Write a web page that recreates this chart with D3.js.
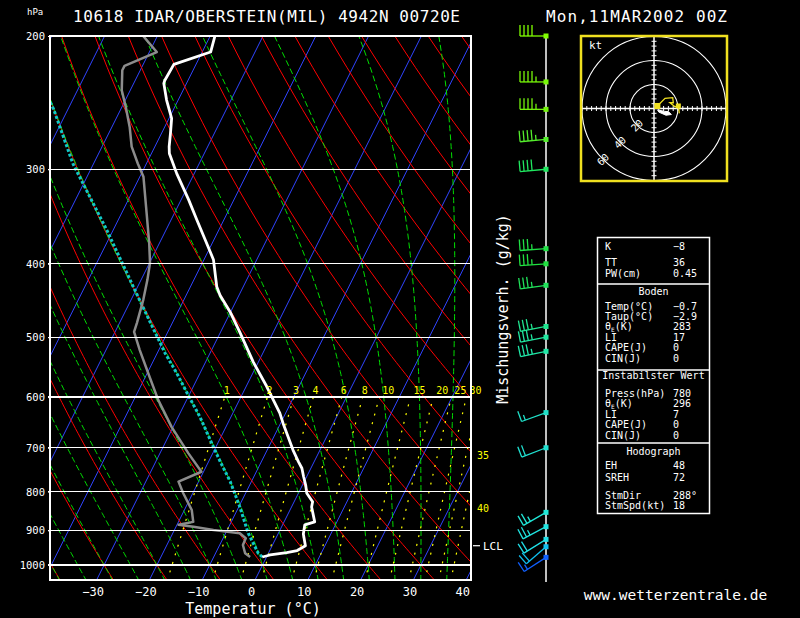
<!DOCTYPE html>
<html>
<head>
<meta charset="utf-8">
<script src="https://cdn.jsdelivr.net/npm/d3@7"></script>
<style>
  body { margin: 0; background: #000; }
  svg { display: block; background: #000; font-family: "DejaVu Sans Mono", monospace; }
</style>
</head>
<body>
<svg id="chart" width="800" height="618"></svg>
<script>
// ---- sounding data ----
const tempP = [200, 210, 218, 229, 231, 243, 257, 269, 280, 286, 304, 329, 350, 380, 395, 429, 440, 463, 492, 539, 581, 630, 650, 705, 730, 745, 764, 784, 804, 825, 838, 877, 885, 910, 943, 957, 963, 970, 976];
const tempT = [-59.1, -58.4, -64.2, -64.4, -64.3, -62.2, -59.5, -58.3, -57.3, -56.6, -53.3, -48.6, -45.1, -40.4, -38.2, -35.0, -33.6, -30.1, -26.4, -21.0, -16.1, -11.1, -9.5, -5.1, -3.0, -1.7, -0.6, 0.6, 1.6, 3.5, 3.8, 5.8, 4.2, 4.8, 6.3, 5.2, 3.4, 0.5, -0.8];

const dewP = [200, 210, 219, 222, 236, 248, 264, 280, 295, 307, 336, 376, 399, 420, 446, 479, 492, 520, 558, 605, 657, 712, 753, 776, 804, 846, 877, 885, 890, 899, 908, 922, 941, 965, 976];
const dewT = [-72.7, -68.6, -73.4, -73.4, -71.6, -69.3, -66.6, -64.4, -61.6, -59.3, -56.0, -51.9, -49.9, -48.8, -47.7, -46.7, -46.4, -43.6, -39.8, -35.4, -30.3, -24.6, -20.4, -23.8, -21.8, -18.6, -17.2, -19.7, -16.7, -12.6, -7.3, -5.7, -5.6, -4.4, -3.1];

const parcelP = [976, 965, 908, 838, 776, 730, 698, 637, 596, 558, 525, 487, 453, 429, 361, 295, 250, 240];
const parcelT = [-0.8, -1.9, -5.7, -9.8, -14.0, -17.8, -20.5, -25.9, -30.2, -34.4, -38.5, -43.1, -47.5, -50.8, -61.2, -73.9, -82.7, -85.2];

const windP   = [200, 230, 250, 274, 300, 382, 400, 427, 484, 500, 522, 629, 700, 852, 890, 925, 946, 977];
const windDir = [270, 270, 270, 265, 265, 266, 266, 262, 259, 259, 258, 250, 249, 240, 242, 238, 229, 237];
const windSpd = [40, 45, 45, 45, 40, 35, 35, 35, 35, 35, 35, 15, 20, 25, 25, 20, 20, 15];

const hodoU = [2.8, 9.2, 15.6, 16.1, 13.3, 17.5, 20.3, 21.1];
const hodoV = [2.1, 8.5, 9.0, 4.8, 4.8, 1.5, 2.1, -4.0];
const hodoMark = [[3, -1.2], [9, -2.4], [12, -2.6], [14.5, -5], [10, -5.6], [4, -3]];
const hodoRings = [20, 40, 60];

const lclP = 943;

// ---- chart furniture ----
const pressureTicks = [1000, 900, 800, 700, 600, 500, 400, 300, 200];
const isobars = [1000, 900, 800, 700, 600, 500, 400, 300];
const tempTicks = [-30, -20, -10, 0, 10, 20, 30, 40];
const isotherms = [-90, -80, -70, -60, -50, -40, -30, -20, -10, 0, 10, 20, 30, 40];
const dryAdiabats = [-40, -30, -20, -10, 0, 10, 20, 30, 40, 50, 60, 70, 80, 90, 100, 110, 120, 130, 140, 150];
const moistAdiabats = [-40, -35, -30, -25, -20, -15, -10, -5, 0, 5, 10, 15, 20, 25, 30, 35];
const mixingRatios = [1, 2, 3, 4, 6, 8, 10, 15, 20, 25, 30, 35, 40];

const statsTop = [['K', '−8'], ['TT', '36'], ['PW(cm)', '0.45']];
const statsSurface = [['Temp(°C)', '−0.7'], ['Taup(°C)', '−2.9'], ['θE(K)', '283'], ['LI', '17'], ['CAPE(J)', '0'], ['CIN(J)', '0']];
const statsUnstable = [['Press(hPa)', '780'], ['θE(K)', '296'], ['LI', '7'], ['CAPE(J)', '0'], ['CIN(J)', '0']];
const statsHodo = [['EH', '48'], ['SREH', '72'], ['StmDir', '288°'], ['StmSpd(kt)', '18']];

const svg = d3.select('#chart');
const FONT = '"DejaVu Sans Mono", monospace';

// skew-T geometry
const box = { left: 50, right: 471, top: 36, bottom: 580 };
const y = d3.scaleLog().domain([1000, 200]).range([565, 36]);
const xT = d3.scaleLinear().domain([0, 10]).range([255, 307.8]);
const X = (t, p) => xT(t) + 0.5 * (box.bottom - y(p));
const line = d3.line().x(d => X(d[1], d[0])).y(d => y(d[0]));

const es = t => 6.112 * Math.exp(17.67 * t / (t + 243.5));
const tdFromW = (w, p) => {
  const l = Math.log(w * p / (622 + w) / 6.112);
  return 243.5 * l / (17.67 - l);
};
const dTdp = (t, p) => {
  const tk = t + 273.15, e = es(t), rs = 0.622 * e / (p - e);
  return (287 * tk + 2.5e6 * rs) / (p * (1004 + 2.5e6 * 2.5e6 * rs * 0.622 / (287 * tk * tk)));
};
function moistPath(t0) {
  const lower = [];
  let t = t0;
  for (let p = 1000; p < 1050; p += 5) {
    const k1 = dTdp(t, p), k2 = dTdp(t + 5 * k1, p + 5);
    t += 5 * (k1 + k2) / 2;
    lower.unshift([p + 5, t]);
  }
  const upper = [];
  t = t0;
  for (let p = 1000; p >= 200; p -= 5) {
    upper.push([p, t]);
    const k1 = dTdp(t, p), k2 = dTdp(t - 5 * k1, p - 5);
    t -= 5 * (k1 + k2) / 2;
  }
  return lower.concat(upper);
}
const samplesP = d3.range(1050, 195, -10);

svg.append('clipPath').attr('id', 'plotClip')
  .append('rect').attr('x', box.left).attr('y', box.top)
  .attr('width', box.right - box.left).attr('height', box.bottom - box.top);
const plot = svg.append('g').attr('clip-path', 'url(#plotClip)');

// isotherms
plot.append('g').selectAll('path').data(isotherms).join('path')
  .attr('d', t => line([[1050, t], [200, t]]))
  .attr('fill', 'none').attr('stroke', '#3044ff').attr('stroke-width', 1);

// dry adiabats
plot.append('g').selectAll('path').data(dryAdiabats).join('path')
  .attr('d', th => line(samplesP.map(p => [p, (th + 273.15) * Math.pow(p / 1000, 0.286) - 273.15])))
  .attr('fill', 'none').attr('stroke', '#ff0000').attr('stroke-width', 1);

// moist adiabats
plot.append('g').selectAll('path').data(moistAdiabats).join('path')
  .attr('d', t => line(moistPath(t)))
  .attr('fill', 'none').attr('stroke', '#00e000').attr('stroke-width', 1)
  .attr('stroke-dasharray', '6,3');

// mixing ratio lines
plot.append('g').selectAll('path').data(mixingRatios).join('path')
  .attr('d', w => line(d3.range(1050, 595, -25).map(p => [p, tdFromW(w, p)])))
  .attr('fill', 'none').attr('stroke', '#ffff00').attr('stroke-width', 1.2)
  .attr('stroke-dasharray', '2,7');

// isobars
svg.append('g').selectAll('line').data(isobars).join('line')
  .attr('x1', box.left - 2).attr('x2', box.right).attr('y1', d => y(d)).attr('y2', d => y(d))
  .attr('stroke', '#fff').attr('stroke-width', 1.3).attr('shape-rendering', 'crispEdges');

// mixing ratio labels
svg.append('g').selectAll('text').data(mixingRatios.filter(w => w <= 30)).join('text')
  .attr('x', w => X(tdFromW(w, 600), 600) + (w >= 10 ? 3 : -1))
  .attr('y', 394)
  .attr('fill', '#ffff00').attr('font-size', 10).attr('font-family', FONT)
  .text(w => w);
const edgeP = w => {
  let lo = 550, hi = 1050;
  for (let i = 0; i < 40; i++) {
    const mid = (lo + hi) / 2;
    if (X(tdFromW(w, mid), mid) > 466) lo = mid; else hi = mid;
  }
  return lo;
};
svg.append('g').selectAll('text').data(mixingRatios.filter(w => w > 30)).join('text')
  .attr('x', 477).attr('y', w => y(edgeP(w)) + 4)
  .attr('fill', '#ffff00').attr('font-size', 10).attr('font-family', FONT)
  .text(w => w);

// parcel, dew point, temperature
plot.append('path')
  .attr('d', line(parcelP.map((p, i) => [p, parcelT[i]])))
  .attr('fill', 'none').attr('stroke', '#10c8c8').attr('stroke-width', 3)
  .attr('stroke-dasharray', '3,2');
plot.append('path')
  .attr('d', line(dewP.map((p, i) => [p, dewT[i]])))
  .attr('fill', 'none').attr('stroke', '#8c8c8c').attr('stroke-width', 2.5)
  .attr('stroke-linejoin', 'round');
plot.append('path')
  .attr('d', line(tempP.map((p, i) => [p, tempT[i]])))
  .attr('fill', 'none').attr('stroke', '#fff').attr('stroke-width', 2.8)
  .attr('stroke-linejoin', 'round');

// frame
svg.append('rect').attr('x', box.left).attr('y', box.top)
  .attr('width', box.right - box.left).attr('height', box.bottom - box.top)
  .attr('fill', 'none').attr('stroke', '#fff').attr('stroke-width', 2);

// pressure axis
const yAxis = svg.append('g').attr('transform', `translate(${box.left},0)`)
  .call(d3.axisLeft(y).tickValues(pressureTicks).tickFormat(d3.format('d')).tickSize(2).tickPadding(3));
yAxis.attr('font-family', FONT).attr('font-size', 10.5);
yAxis.select('.domain').remove();
yAxis.selectAll('line').attr('stroke', '#fff');
yAxis.selectAll('text').attr('fill', '#fff');

// temperature axis
const xAxis = svg.append('g').attr('transform', `translate(0,${box.bottom})`)
  .call(d3.axisBottom(xT).tickValues(tempTicks).tickSize(0).tickPadding(7.5));
xAxis.attr('font-family', FONT).attr('font-size', 12);
xAxis.select('.domain').remove();
xAxis.selectAll('text').attr('fill', '#fff').attr('dx', -4);

svg.append('text').attr('x', 253).attr('y', 614).attr('text-anchor', 'middle')
  .attr('fill', '#fff').attr('font-size', 15).attr('font-family', FONT)
  .text('Temperatur (°C)');
svg.append('text').attr('x', 27).attr('y', 15)
  .attr('fill', '#fff').attr('font-size', 9).attr('font-family', FONT).text('hPa');

// titles
svg.append('text').attr('x', 73).attr('y', 22)
  .attr('textLength', 387).attr('lengthAdjust', 'spacing')
  .attr('fill', '#fff').attr('font-size', 16).attr('font-family', FONT)
  .text('10618 IDAR/OBERSTEIN(MIL) 4942N 00720E');
svg.append('text').attr('x', 546).attr('y', 22)
  .attr('textLength', 181).attr('lengthAdjust', 'spacing')
  .attr('fill', '#fff').attr('font-size', 16).attr('font-family', FONT)
  .text('Mon,11MAR2002 00Z');

// LCL marker
svg.append('line').attr('x1', box.right + 2).attr('x2', box.right + 9).attr('y1', y(lclP)).attr('y2', y(lclP))
  .attr('stroke', '#fff').attr('stroke-width', 1.2);
svg.append('text').attr('x', 483).attr('y', y(lclP) + 4)
  .attr('fill', '#fff').attr('font-size', 11).attr('font-family', FONT).text('LCL');

// vertical axis label
svg.append('text').attr('transform', 'translate(508,309) rotate(-90)')
  .attr('text-anchor', 'middle').attr('fill', '#fff').attr('font-size', 15).attr('font-family', FONT)
  .text('Mischungsverh. (g/kg)');

// ---- wind barbs ----
const windX = 546;
const windColor = d3.scaleLinear()
  .domain([200, 260, 300, 400, 500, 650, 850, 925, 946, 977])
  .range(['#80ff00', '#70f010', '#20e860', '#20e040', '#20e8a0', '#20e0d0', '#20e8d8', '#20e0e8', '#10c0f0', '#1060ff']);
svg.append('line').attr('x1', windX).attr('x2', windX).attr('y1', box.top).attr('y2', 582)
  .attr('stroke', '#fff').attr('stroke-width', 1.5);
const barbs = svg.append('g');
windP.forEach((p, i) => {
  const yy = y(p), a = windDir[i] * Math.PI / 180;
  const ux = Math.sin(a), uy = -Math.cos(a);
  const px = -uy, py = ux;
  const col = windColor(p);
  const g = barbs.append('g').attr('stroke', col).attr('stroke-width', 1.3).attr('fill', 'none');
  const L = 26;
  const tipX = windX + L * ux, tipY = yy + L * uy;
  g.append('line').attr('x1', windX).attr('y1', yy).attr('x2', tipX).attr('y2', tipY);
  let s = windSpd[i], k = 0;
  const add = len => {
    const bx = tipX - k * 4 * ux, by = tipY - k * 4 * uy;
    g.append('line').attr('x1', bx).attr('y1', by).attr('x2', bx + len * px).attr('y2', by + len * py);
    k++;
  };
  while (s >= 10) { add(11); s -= 10; }
  if (s >= 5) add(5.5);
  barbs.append('rect').attr('x', windX - 2.5).attr('y', yy - 2.5).attr('width', 5).attr('height', 5)
    .attr('fill', col);
});

// ---- hodograph ----
const hcx = 654, hcy = 108.5;
const hs = d3.scaleLinear().domain([0, 60]).range([0, 72]);
const hx = u => hcx + hs(u), hy = v => hcy - hs(v);
svg.append('clipPath').attr('id', 'hodoClip')
  .append('rect').attr('x', 581).attr('y', 36).attr('width', 146).attr('height', 145);
const hodo = svg.append('g').attr('clip-path', 'url(#hodoClip)');
hodo.selectAll('circle').data(hodoRings).join('circle')
  .attr('cx', hcx).attr('cy', hcy).attr('r', d => hs(d))
  .attr('fill', 'none').attr('stroke', '#fff').attr('stroke-width', 1.1);
hodo.append('line').attr('x1', 581).attr('x2', 727).attr('y1', hcy).attr('y2', hcy).attr('stroke', '#fff').attr('stroke-width', 1.5);
hodo.append('line').attr('x1', hcx).attr('x2', hcx).attr('y1', 36).attr('y2', 181).attr('stroke', '#fff').attr('stroke-width', 1.5);
const hodoTicks = d3.range(-60, 61, 4).filter(d => d !== 0);
hodo.append('g').selectAll('line').data(hodoTicks).join('line')
  .attr('x1', d => hx(d)).attr('x2', d => hx(d)).attr('y1', hcy - 2.5).attr('y2', hcy + 2.5)
  .attr('stroke', '#fff').attr('stroke-width', 1);
hodo.append('g').selectAll('line').data(hodoTicks).join('line')
  .attr('y1', d => hy(d)).attr('y2', d => hy(d)).attr('x1', hcx - 2.5).attr('x2', hcx + 2.5)
  .attr('stroke', '#fff').attr('stroke-width', 1);
hodo.append('g').selectAll('text').data(hodoRings).join('text')
  .attr('transform', d => `translate(${hcx - hs(d) * 0.7071},${hcy + hs(d) * 0.7071}) rotate(-45)`)
  .attr('text-anchor', 'middle').attr('dy', 3.5)
  .attr('fill', '#fff').attr('font-size', 10).attr('font-family', FONT)
  .text(d => d);
hodo.append('path')
  .attr('d', d3.line().x(d => hx(d[0])).y(d => hy(d[1]))(hodoU.map((u, i) => [u, hodoV[i]])))
  .attr('fill', 'none').attr('stroke', '#f0e020').attr('stroke-width', 1.3);
hodo.append('rect').attr('x', hx(hodoU[0]) - 3).attr('y', hy(hodoV[0]) - 3).attr('width', 6).attr('height', 6).attr('fill', '#f0e020');
hodo.append('rect').attr('x', hx(hodoU[6]) - 2.5).attr('y', hy(hodoV[6]) - 2.5).attr('width', 5).attr('height', 5).attr('fill', '#f0e020');
hodo.append('path')
  .attr('d', d3.line().x(d => hx(d[0])).y(d => hy(d[1]))(hodoMark) + 'Z')
  .attr('fill', '#fff').attr('stroke', '#fff').attr('stroke-width', 1);
svg.append('text').attr('x', 589).attr('y', 49)
  .attr('fill', '#fff').attr('font-size', 11).attr('font-family', FONT).text('kt');
svg.append('rect').attr('x', 581).attr('y', 36).attr('width', 146).attr('height', 145)
  .attr('fill', 'none').attr('stroke', '#f0e020').attr('stroke-width', 2.5);

// ---- stats table ----
const tbl = svg.append('g').attr('font-family', FONT).attr('font-size', 10).attr('fill', '#fff');
tbl.append('rect').attr('x', 597.5).attr('y', 237.5).attr('width', 112).attr('height', 276)
  .attr('fill', 'none').attr('stroke', '#fff').attr('stroke-width', 1.5);
[284, 370, 443].forEach(yy => tbl.append('line').attr('x1', 597.5).attr('x2', 709.5).attr('y1', yy).attr('y2', yy)
  .attr('stroke', '#fff').attr('stroke-width', 1.5));
function row(label, value, yy) {
  const t = tbl.append('text').attr('x', 605).attr('y', yy + 3.5);
  if (label.startsWith('θE')) {
    t.append('tspan').text('θ');
    t.append('tspan').text('E').attr('font-size', 6).attr('dy', 1.5);
    t.append('tspan').text(label.slice(2)).attr('dy', -1.5);
  } else {
    t.text(label);
  }
  tbl.append('text').attr('x', 673).attr('y', yy + 3.5).text(value);
}
const header = (txt, yy) => tbl.append('text').attr('x', 653.5).attr('y', yy + 3.5)
  .attr('text-anchor', 'middle').text(txt);
[246, 262, 273].forEach((yy, i) => row(statsTop[i][0], statsTop[i][1], yy));
header('Boden', 291);
statsSurface.forEach((r, i) => row(r[0], r[1], 306 + i * 10.4));
header('Instabilster Wert', 375);
statsUnstable.forEach((r, i) => row(r[0], r[1], 393 + i * 10.5));
header('Hodograph', 451);
[465, 477, 495, 505].forEach((yy, i) => row(statsHodo[i][0], statsHodo[i][1], yy));

svg.append('text').attr('x', 675.5).attr('y', 600).attr('text-anchor', 'middle')
  .attr('fill', '#fff').attr('font-size', 14.5).attr('font-family', FONT)
  .text('www.wetterzentrale.de');
</script>
</body>
</html>
